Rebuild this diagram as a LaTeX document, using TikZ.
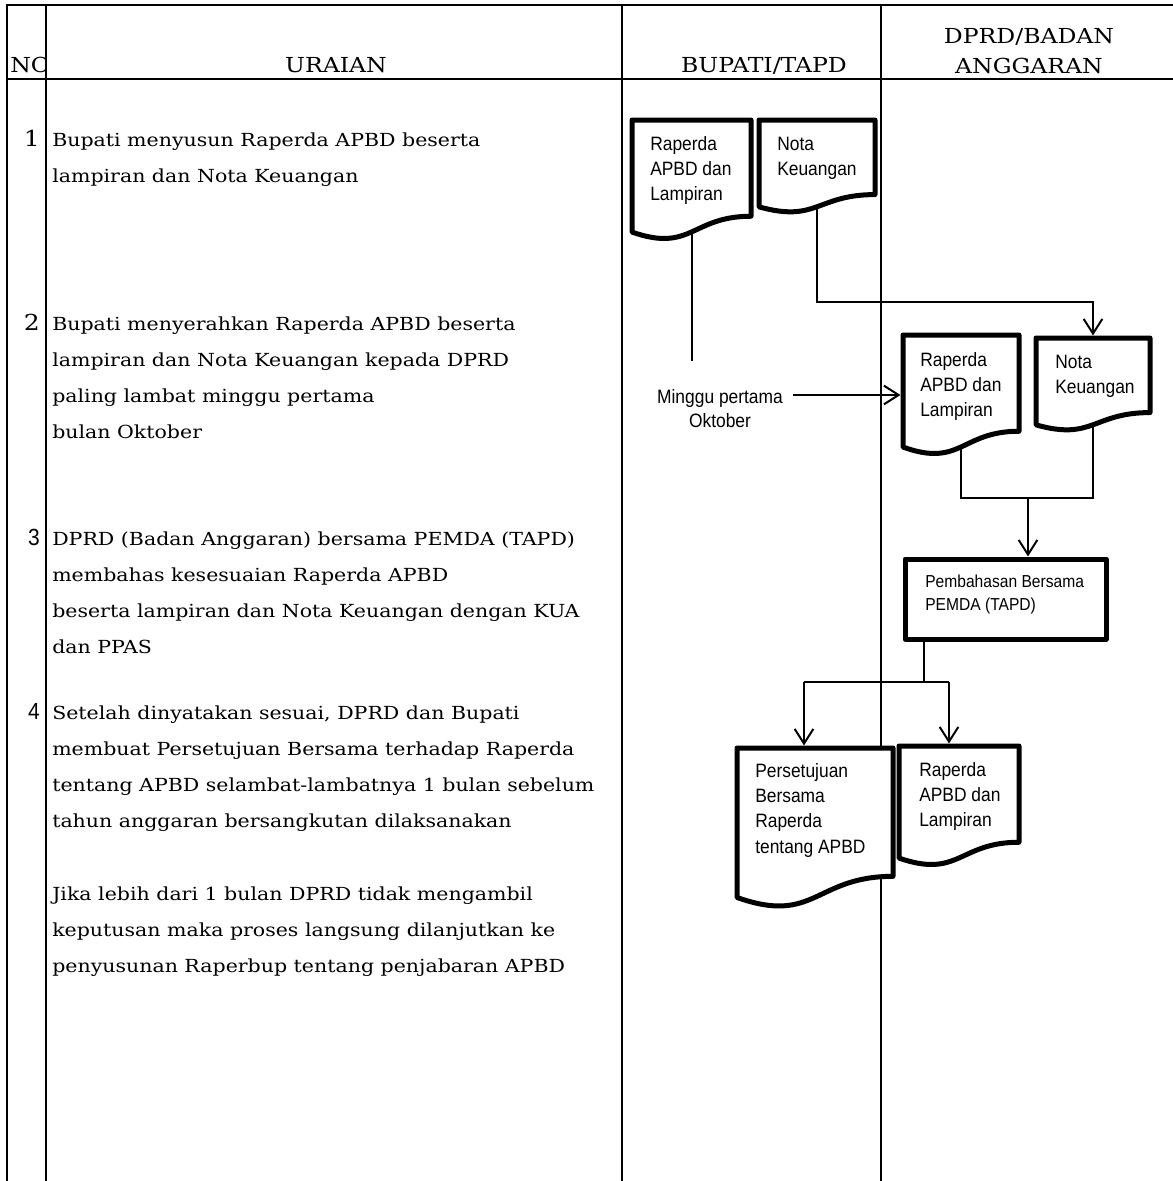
\documentclass[tikz,border=0pt]{standalone}
\usepackage{fontspec}
\usetikzlibrary{arrows.meta,calc}
\newfontfamily\bodyfont[FakeStretch=1.14]{DejaVu Serif}
\newfontfamily\flowfont[FakeStretch=0.9]{Liberation Sans}
\newcommand\px{0.75pt}
\newcommand\tblock[1]{\begin{tabular}[t]{@{}l@{}}#1\end{tabular}}
\newcommand\cblock[1]{\begin{tabular}[t]{@{}c@{}}#1\end{tabular}}
% document symbol: flat top, wavy bottom
\newcommand\docoutline[1]{%
  \draw[docline] (#1.north west) -- (#1.north east)
    -- ($(#1.north east)!0.802!(#1.south east)$)
    .. controls ($(#1.north)!0.802!(#1.south)$) and ($(#1.north)!1.1075!(#1.south)$)
    .. ($(#1.north west)!0.934!(#1.south west)$) -- cycle;}
\begin{document}
\begin{tikzpicture}[x=0.75pt,y=-0.75pt,
  grid/.style={line width=1.5pt},
  conn/.style={line width=1.5pt},
  arr/.style={conn,shorten >=1.9pt,-{Straight Barb[length=11pt,width=14pt]}},
  docline/.style={line width=3.75pt,line join=round,fill=white},
  shapenode/.style={rectangle,inner sep=0pt,outer sep=0pt},
  head/.style={font=\bodyfont\fontsize{15.5}{22.5}\selectfont,inner sep=0pt,anchor=base},
  body/.style={font=\bodyfont\fontsize{13.5}{27}\selectfont,inner sep=0pt,anchor=base west},
  num/.style={font=\bodyfont\fontsize{16.5}{27}\selectfont,inner sep=0pt,anchor=base east},
  numsans/.style={font=\flowfont\fontsize{17.5}{27}\selectfont,inner sep=0pt,anchor=base east},
  flow/.style={font=\flowfont\fontsize{14.5}{19}\selectfont,inner sep=0pt,anchor=base west},
  flowsmall/.style={font=\flowfont\fontsize{13}{17.25}\selectfont,inner sep=0pt,anchor=base west},
]
\useasboundingbox (0,0) rectangle (1173,1181);
\fill[white] (0,0) rectangle (1173,1181);

% table frame
\draw[grid] (7,5) -- (1173,5);
\draw[grid] (7,79) -- (1173,79);
\draw[line width=2pt] (7,4) -- (7,1181);
\draw[grid] (46,5) -- (46,1181);
\draw[grid] (622,5) -- (622,1181);
\draw[grid] (881,5) -- (881,1181);

% column headings
\begin{scope}
  \clip (8,6) rectangle (45.2,78);
  \node[head,anchor=base west] (hno) at (10,73) {NO};
\end{scope}
\node[head] (hur) at (336,73) {URAIAN};
\node[head] (hbp) at (764,73) {BUPATI/TAPD};
\node[head] (hdp) at (1029,44) {\cblock{DPRD/BADAN\\ANGGARAN}};

% step numbers
\node[num] (n1) at (40,146) {1};
\node[num] (n2) at (40,330) {2};
\node[numsans] (n3) at (40,545) {3};
\node[numsans] (n4) at (40,719) {4};

% step descriptions
\node[body] (t1) at (52,146) {\tblock{Bupati menyusun Raperda APBD beserta\\lampiran dan Nota Keuangan}};
\node[body] (t2) at (52,330) {\tblock{Bupati menyerahkan Raperda APBD beserta\\lampiran dan Nota Keuangan kepada DPRD\\paling lambat minggu pertama\\bulan Oktober}};
\node[body] (t3) at (52,545) {\tblock{DPRD (Badan Anggaran) bersama PEMDA (TAPD)\\membahas kesesuaian Raperda APBD\\beserta lampiran dan Nota Keuangan dengan KUA\\dan PPAS}};
\node[body] (t4) at (52,719) {\tblock{Setelah dinyatakan sesuai, DPRD dan Bupati\\membuat Persetujuan Bersama terhadap Raperda\\tentang APBD selambat-lambatnya 1 bulan sebelum\\tahun anggaran bersangkutan dilaksanakan}};
\node[body] (t5) at (52,900) {\tblock{Jika lebih dari 1 bulan DPRD tidak mengambil\\keputusan maka proses langsung dilanjutkan ke\\penyusunan Raperbup tentang penjabaran APBD}};

% flow symbols (frames only; outlines drawn later)
\node[shapenode,minimum width=119*\px,minimum height=120*\px] (a1) at (691.5,180) {};
\node[shapenode,minimum width=116*\px,minimum height=93*\px] (b1) at (817,166.5) {};
\node[shapenode,minimum width=116*\px,minimum height=120*\px] (a2) at (961,395) {};
\node[shapenode,minimum width=114*\px,minimum height=93*\px] (b2) at (1093,384.5) {};
\node[shapenode,minimum width=156*\px,minimum height=160*\px] (c) at (815,828) {};
\node[shapenode,minimum width=120*\px,minimum height=120*\px] (d) at (959,806) {};
\node[flow,anchor=base,inner xsep=7.5pt,font=\flowfont\fontsize{14.5}{18}\selectfont] (mg) at (720,403) {\cblock{Minggu pertama\\Oktober}};

% connectors
\coordinate (a1end) at (691.5,361);
\draw[conn] (a1.center) -- (a1.center |- a1end);
\coordinate (b1turn) at (817,302);
\draw[arr] (b1.center) -- (b1turn) -| (b2.north);
\draw[arr] (mg.east |- a2.west) -- (a2.west);
\coordinate (join) at (1028,498);
\draw[conn] (a2.center) |- (join) -| (b2.center);
\node[shapenode,draw,line width=3.75pt,line join=round,fill=white,minimum width=201*\px,minimum height=80*\px] (pb) at (1005.5,599) {};
\draw[arr] (join) -- (join |- pb.north);
\coordinate (split) at (924,682);
\coordinate (sl) at (804,682);
\coordinate (sr) at (949,682);
\draw[conn] (pb.south -| split) -- (split);
\draw[conn] (sl) -- (sr);
\draw[arr] (sl) -- (sl |- c.north);
\draw[arr] (sr) -- (sr |- d.north);

% document outlines
\docoutline{a1}
\docoutline{b1}
\docoutline{a2}
\docoutline{b2}
\docoutline{c}
\docoutline{d}

% symbol texts
\node[flow] (a1t) at (650,150) {\tblock{Raperda\\APBD dan\\Lampiran}};
\node[flow] (b1t) at (777,150) {\tblock{Nota\\Keuangan}};
\node[flow] (a2t) at (920,366) {\tblock{Raperda\\APBD dan\\Lampiran}};
\node[flow] (b2t) at (1055,368) {\tblock{Nota\\Keuangan}};
\node[flowsmall] (pbt) at (925,587) {\tblock{Pembahasan Bersama\\PEMDA (TAPD)}};
\node[flow] (ct) at (755,777) {\tblock{Persetujuan\\Bersama\\Raperda\\tentang APBD}};
\node[flow] (dt) at (919,776) {\tblock{Raperda\\APBD dan\\Lampiran}};
\end{tikzpicture}
\end{document}
